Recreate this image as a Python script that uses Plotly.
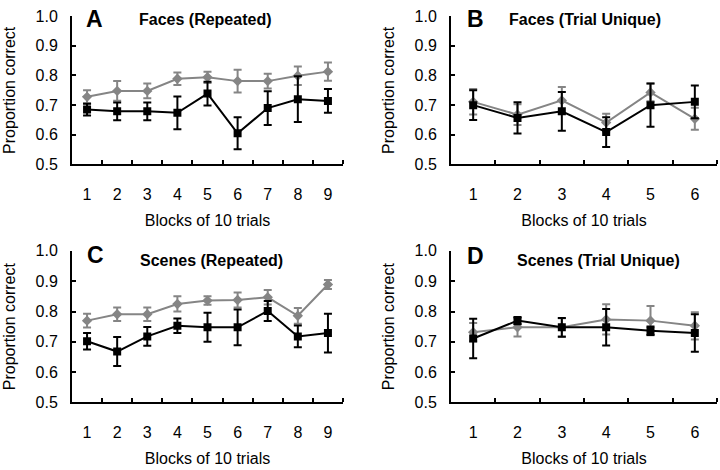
import plotly.graph_objects as go

# ---- data ----
blocks_rep = [1, 2, 3, 4, 5, 6, 7, 8, 9]
blocks_uni = [1, 2, 3, 4, 5, 6]

faces_rep_gray = [0.728, 0.748, 0.748, 0.789, 0.794, 0.781, 0.781, 0.799, 0.813]
faces_rep_gray_err = [0.022, 0.033, 0.025, 0.021, 0.019, 0.038, 0.025, 0.031, 0.031]
faces_rep_black = [0.685, 0.679, 0.679, 0.674, 0.739, 0.605, 0.690, 0.720, 0.714]
faces_rep_black_err = [0.020, 0.030, 0.030, 0.055, 0.040, 0.054, 0.057, 0.077, 0.040]

faces_uni_gray = [0.711, 0.668, 0.716, 0.641, 0.743, 0.654]
faces_uni_gray_err = [0.043, 0.035, 0.045, 0.030, 0.030, 0.037]
faces_uni_black = [0.700, 0.657, 0.679, 0.609, 0.700, 0.711]
faces_uni_black_err = [0.050, 0.053, 0.065, 0.050, 0.073, 0.055]

scenes_rep_gray = [0.770, 0.791, 0.791, 0.825, 0.836, 0.838, 0.847, 0.786, 0.889]
scenes_rep_gray_err = [0.023, 0.022, 0.022, 0.025, 0.014, 0.025, 0.024, 0.026, 0.015]
scenes_rep_black = [0.702, 0.668, 0.718, 0.753, 0.748, 0.748, 0.802, 0.718, 0.729]
scenes_rep_black_err = [0.027, 0.048, 0.031, 0.024, 0.048, 0.059, 0.033, 0.036, 0.064]

scenes_uni_gray = [0.732, 0.748, 0.748, 0.774, 0.770, 0.753]
scenes_uni_gray_err = [0.030, 0.030, 0.030, 0.050, 0.048, 0.045]
scenes_uni_black = [0.711, 0.770, 0.748, 0.748, 0.737, 0.729]
scenes_uni_black_err = [0.065, 0.012, 0.031, 0.060, 0.014, 0.062]

panel_letters = ["A", "B", "C", "D"]
panel_titles = ["Faces (Repeated)", "Faces (Trial Unique)", "Scenes (Repeated)", "Scenes (Trial Unique)"]
y_ticks = [0.5, 0.6, 0.7, 0.8, 0.9, 1.0]
x_title = "Blocks of 10 trials"
y_title = "Proportion correct"

GRAY = "#858585"
BLACK = "#000000"
FONT = "Liberation Sans, Arial, Helvetica, sans-serif"

panels = [
    (blocks_rep, faces_rep_gray, faces_rep_gray_err, faces_rep_black, faces_rep_black_err),
    (blocks_uni, faces_uni_gray, faces_uni_gray_err, faces_uni_black, faces_uni_black_err),
    (blocks_rep, scenes_rep_gray, scenes_rep_gray_err, scenes_rep_black, scenes_rep_black_err),
    (blocks_uni, scenes_uni_gray, scenes_uni_gray_err, scenes_uni_black, scenes_uni_black_err),
]

W, H = 720, 470
# plot-area pixel boxes (left, right, top(y=1.0), bottom(y=0.5))
boxes = [
    (72, 343, 8.5, 162.3),
    (451, 717, 8.5, 162.3),
    (72, 343, 252, 409.3),
    (451, 717, 252, 409.3),
]

fig = go.Figure()
layout = dict(
    width=W, height=H,
    margin=dict(l=0, r=0, t=0, b=0),
    paper_bgcolor="white", plot_bgcolor="white",
    showlegend=False,
    font=dict(family=FONT, size=16, color="black"),
    annotations=[],
)

for i, (xs, g, ge, b, be) in enumerate(panels):
    n = i + 1
    xa = "x" if n == 1 else f"x{n}"
    ya = "y" if n == 1 else f"y{n}"
    fig.add_trace(go.Scatter(
        x=xs, y=g, mode="lines+markers", xaxis=xa, yaxis=ya,
        line=dict(color=GRAY, width=2),
        marker=dict(symbol="diamond", size=8, color=GRAY),
        error_y=dict(type="data", array=ge, visible=True, color=GRAY, thickness=2, width=4),
    ))
    fig.add_trace(go.Scatter(
        x=xs, y=b, mode="lines+markers", xaxis=xa, yaxis=ya,
        line=dict(color=BLACK, width=2),
        marker=dict(symbol="square", size=8, color=BLACK),
        error_y=dict(type="data", array=be, visible=True, color=BLACK, thickness=2, width=4),
    ))
    l, r, t, bt = boxes[i]
    nmax = len(xs)
    xkey = "xaxis" if n == 1 else f"xaxis{n}"
    ykey = "yaxis" if n == 1 else f"yaxis{n}"
    layout[xkey] = dict(
        domain=[l / W, r / W], anchor=ya, range=[0.5, nmax + 0.5],
        tickvals=xs, ticktext=[str(v) for v in xs], ticks="",
        showline=True, linecolor="black", linewidth=2, showgrid=False, zeroline=False,
        tickfont=dict(size=16, family=FONT), ticklabelstandoff=14,
        minor=dict(tickvals=[v + 0.5 for v in xs], ticks="inside", ticklen=4,
                   tickcolor="black", tickwidth=2, showgrid=False),
        title=dict(text=x_title, font=dict(size=16, family=FONT), standoff=13),
        fixedrange=True,
    )
    layout[ykey] = dict(
        domain=[1 - bt / H, 1 - t / H], anchor=xa, range=[0.5, 1.0],
        tickvals=y_ticks, ticktext=[f"{v:.1f}" for v in y_ticks],
        ticks="inside", ticklen=4, tickwidth=2, tickcolor="black",
        showline=True, linecolor="black", linewidth=2, showgrid=False, zeroline=False,
        tickfont=dict(size=16, family=FONT), ticklabelstandoff=9,
        title=dict(text=y_title, font=dict(size=16, family=FONT), standoff=16),
        fixedrange=True,
    )

letter_pos = [(94, 11), (475, 11), (95, 256), (475, 257)]
title_pos = [(205, 12), (585, 12), (211, 262), (598, 262)]
for i in range(4):
    lx, ly = letter_pos[i]
    tx, ty = title_pos[i]
    layout["annotations"].append(dict(
        text=f"<b>{panel_letters[i]}</b>", x=lx / W, y=1 - ly / H, xref="paper", yref="paper",
        showarrow=False, xanchor="center", yanchor="middle", font=dict(size=23, family=FONT)))
    layout["annotations"].append(dict(
        text=f"<b>{panel_titles[i]}</b>", x=tx / W, y=1 - ty / H, xref="paper", yref="paper",
        showarrow=False, xanchor="center", yanchor="middle", font=dict(size=16, family=FONT)))

fig.update_layout(**layout)
fig.write_html(
    "out.html",
    config={"displayModeBar": False, "staticPlot": True},
    post_script="document.body.style.margin='0';document.body.style.padding='0';"
                "document.documentElement.style.overflow='hidden';",
)
